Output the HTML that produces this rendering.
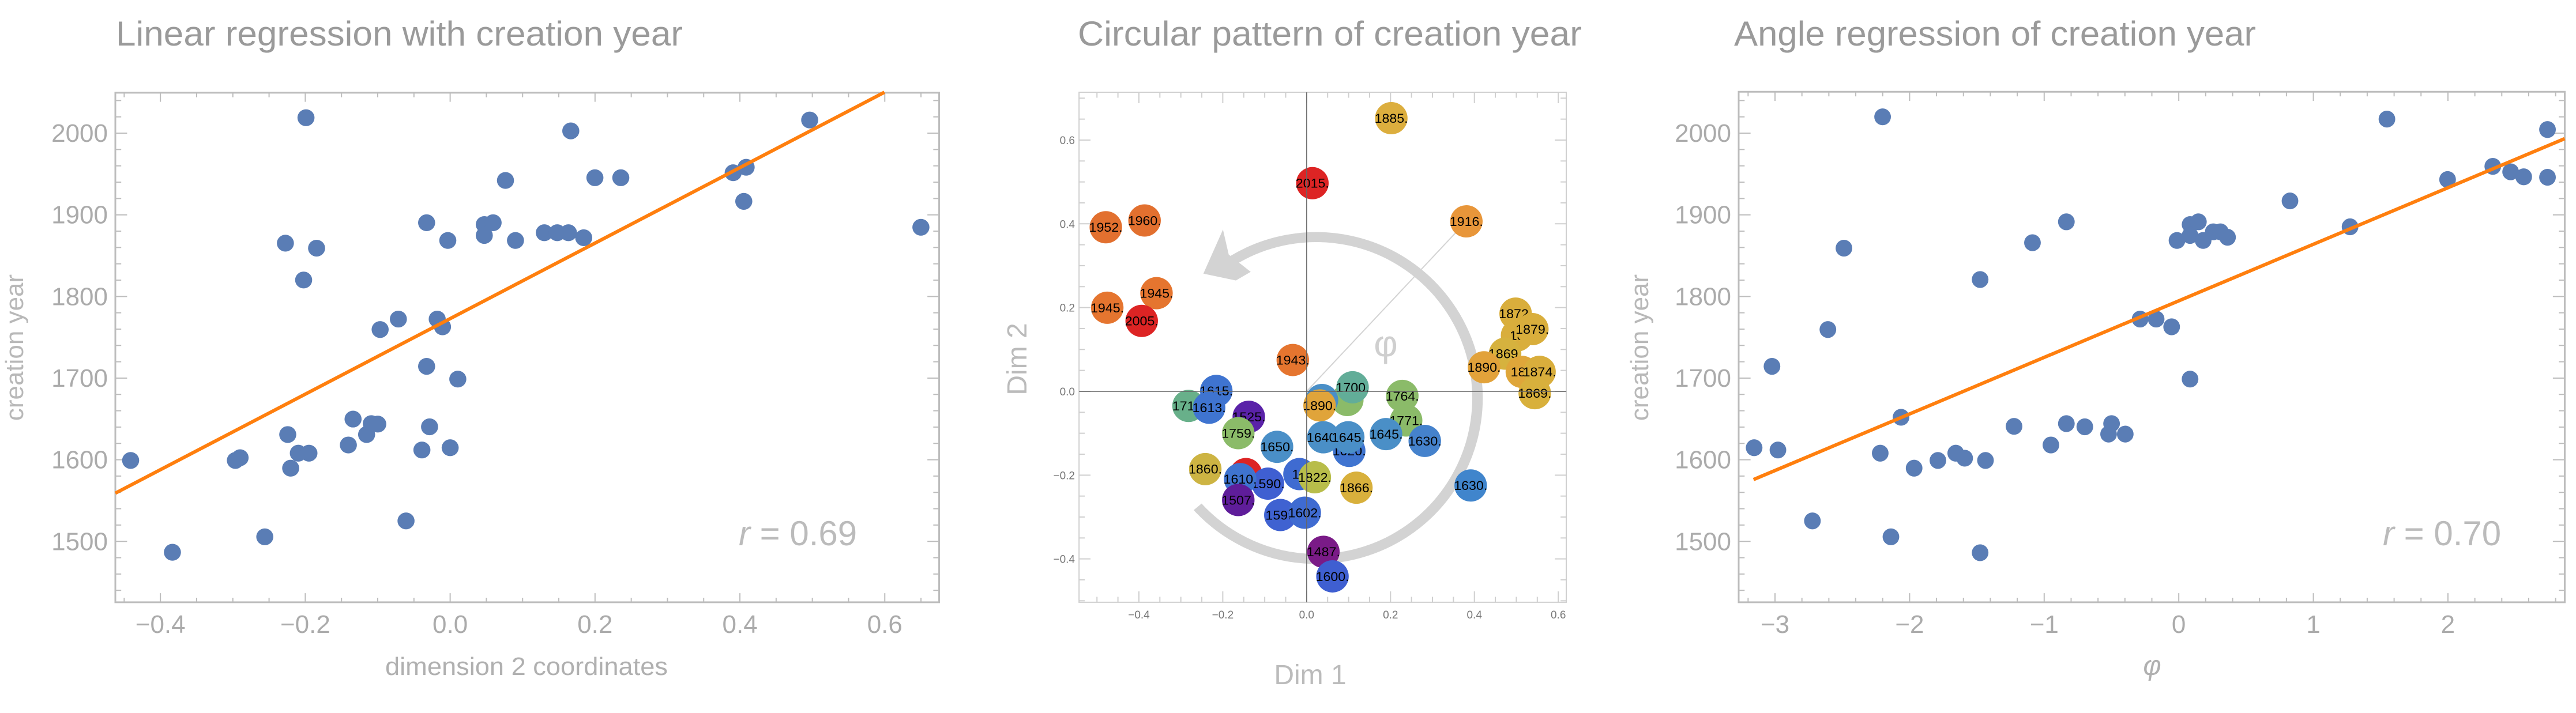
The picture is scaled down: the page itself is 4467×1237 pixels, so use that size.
<!DOCTYPE html>
<html><head><meta charset="utf-8"><style>
html,body{margin:0;padding:0;background:#fff;}
svg{display:block;}
text{font-family:"Liberation Sans",sans-serif;}
</style></head><body>
<svg id="s" xmlns="http://www.w3.org/2000/svg" width="4467" height="1237" viewBox="0 0 4467 1237">
<rect width="4467" height="1237" fill="#fff"/>
<!-- titles -->
<text x="201" y="79" font-size="60" fill="#9a9a9a" textLength="983" lengthAdjust="spacingAndGlyphs">Linear regression with creation year</text>
<text x="1869" y="79" font-size="60" fill="#9a9a9a" textLength="874" lengthAdjust="spacingAndGlyphs">Circular pattern of creation year</text>
<text x="3007" y="79" font-size="60" fill="#9a9a9a" textLength="905" lengthAdjust="spacingAndGlyphs">Angle regression of creation year</text>

<!-- panel 1 -->
<g id="p1" transform="scale(1.0204,0.7886)">
<rect x="196" y="204" width="1400" height="1121" fill="none" stroke="#bdbdbd" stroke-width="3" vector-effect="non-scaling-stroke"/>
<g id="t1"></g>
<g fill="#5a7db5">
<ellipse cx="222" cy="1013" rx="14.5" ry="18.5"/><ellipse cx="293" cy="1215" rx="14.5" ry="18.5"/><ellipse cx="400" cy="1013" rx="14.5" ry="18.5"/><ellipse cx="408" cy="1007" rx="14.5" ry="18.5"/><ellipse cx="450" cy="1181" rx="14.5" ry="18.5"/><ellipse cx="485" cy="535" rx="14.5" ry="18.5"/><ellipse cx="489" cy="956" rx="14.5" ry="18.5"/><ellipse cx="494" cy="1030" rx="14.5" ry="18.5"/><ellipse cx="507" cy="997" rx="14.5" ry="18.5"/><ellipse cx="516" cy="616" rx="14.5" ry="18.5"/><ellipse cx="520" cy="259" rx="14.5" ry="18.5"/><ellipse cx="525" cy="997" rx="14.5" ry="18.5"/><ellipse cx="538" cy="546" rx="14.5" ry="18.5"/><ellipse cx="592" cy="979" rx="14.5" ry="18.5"/><ellipse cx="600" cy="922" rx="14.5" ry="18.5"/><ellipse cx="623" cy="956" rx="14.5" ry="18.5"/><ellipse cx="631" cy="932" rx="14.5" ry="18.5"/><ellipse cx="642" cy="933" rx="14.5" ry="18.5"/><ellipse cx="646" cy="725" rx="14.5" ry="18.5"/><ellipse cx="677" cy="702" rx="14.5" ry="18.5"/><ellipse cx="690" cy="1146" rx="14.5" ry="18.5"/><ellipse cx="717" cy="990" rx="14.5" ry="18.5"/><ellipse cx="725" cy="490" rx="14.5" ry="18.5"/><ellipse cx="725" cy="806" rx="14.5" ry="18.5"/><ellipse cx="730" cy="939" rx="14.5" ry="18.5"/><ellipse cx="743" cy="702" rx="14.5" ry="18.5"/><ellipse cx="752" cy="719" rx="14.5" ry="18.5"/><ellipse cx="761" cy="529" rx="14.5" ry="18.5"/><ellipse cx="765" cy="985" rx="14.5" ry="18.5"/><ellipse cx="778" cy="834" rx="14.5" ry="18.5"/><ellipse cx="823" cy="494" rx="14.5" ry="18.5"/><ellipse cx="823" cy="518" rx="14.5" ry="18.5"/><ellipse cx="838" cy="490" rx="14.5" ry="18.5"/><ellipse cx="859" cy="397" rx="14.5" ry="18.5"/><ellipse cx="876" cy="529" rx="14.5" ry="18.5"/><ellipse cx="925" cy="512" rx="14.5" ry="18.5"/><ellipse cx="947" cy="512" rx="14.5" ry="18.5"/><ellipse cx="966" cy="512" rx="14.5" ry="18.5"/><ellipse cx="992" cy="523" rx="14.5" ry="18.5"/><ellipse cx="970" cy="288" rx="14.5" ry="18.5"/><ellipse cx="1011" cy="391" rx="14.5" ry="18.5"/><ellipse cx="1055" cy="391" rx="14.5" ry="18.5"/><ellipse cx="1246" cy="380" rx="14.5" ry="18.5"/><ellipse cx="1268" cy="368" rx="14.5" ry="18.5"/><ellipse cx="1264" cy="443" rx="14.5" ry="18.5"/><ellipse cx="1376" cy="264" rx="14.5" ry="18.5"/><ellipse cx="1565" cy="500" rx="14.5" ry="18.5"/>
</g>
<line x1="196" y1="1085" x2="1503" y2="203" stroke="#ff7f0e" stroke-width="6" vector-effect="non-scaling-stroke"/>
</g>
<text x="1281" y="946" font-size="60" fill="#bbb"><tspan font-style="italic">r</tspan> = 0.69</text>
<text x="913" y="1171" font-size="44" fill="#b0b0b0" text-anchor="middle" textLength="490" lengthAdjust="spacingAndGlyphs">dimension 2 coordinates</text>
<text transform="translate(40,603) rotate(-90)" font-size="44" fill="#b8b8b8" text-anchor="middle">creation year</text>
<g id="l1" font-size="44" fill="#ababab"></g>

<!-- panel 2 -->
<g id="p2" transform="translate(1600,0) scale(0.8292,0.7886)">
<rect x="327" y="203" width="1019" height="1122" fill="none" stroke="#cfcfcf" stroke-width="2" vector-effect="non-scaling-stroke"/>
<g id="t2"></g>
<path d="M575,1115 A337,354 0 1 0 650,572" fill="none" stroke="#d3d3d3" stroke-width="22"/>
<polygon points="587,602 628,505 640,560 686,598 655,617" fill="#d3d3d3"/>
<line x1="803" y1="861" x2="1137" y2="487" stroke="#d3d3d3" stroke-width="2" vector-effect="non-scaling-stroke"/>
<g id="c2" font-size="28" text-anchor="middle" fill="#000"></g>
<line x1="803" y1="203" x2="803" y2="1325" stroke="#666" stroke-width="1.5" vector-effect="non-scaling-stroke"/>
<line x1="327" y1="861" x2="1346" y2="861" stroke="#666" stroke-width="1.5" vector-effect="non-scaling-stroke"/>
</g>
<text x="2403" y="618" font-size="64" fill="#cfcfcf" text-anchor="middle">φ</text>
<text x="2272" y="1187" font-size="48" fill="#bbb" text-anchor="middle">Dim 1</text>
<text transform="translate(1780,623) rotate(-90)" font-size="48" fill="#bbb" text-anchor="middle">Dim 2</text>
<g id="l2" font-size="19" fill="#777"></g>

<!-- panel 3 -->
<g id="p3" transform="translate(2850,0) scale(1.0313,0.7886)">
<rect x="160" y="202" width="1389" height="1123" fill="none" stroke="#bdbdbd" stroke-width="3" vector-effect="non-scaling-stroke"/>
<g id="t3"></g>
<g fill="#5a7db5">
<ellipse cx="186" cy="985" rx="14" ry="18.5"/><ellipse cx="216" cy="806" rx="14" ry="18.5"/><ellipse cx="226" cy="990" rx="14" ry="18.5"/><ellipse cx="284" cy="1146" rx="14" ry="18.5"/><ellipse cx="310" cy="725" rx="14" ry="18.5"/><ellipse cx="337" cy="546" rx="14" ry="18.5"/><ellipse cx="398" cy="997" rx="14" ry="18.5"/><ellipse cx="402" cy="257" rx="14" ry="18.5"/><ellipse cx="416" cy="1181" rx="14" ry="18.5"/><ellipse cx="433" cy="918" rx="14" ry="18.5"/><ellipse cx="455" cy="1030" rx="14" ry="18.5"/><ellipse cx="495" cy="1013" rx="14" ry="18.5"/><ellipse cx="525" cy="997" rx="14" ry="18.5"/><ellipse cx="540" cy="1008" rx="14" ry="18.5"/><ellipse cx="566" cy="615" rx="14" ry="18.5"/><ellipse cx="566" cy="1216" rx="14" ry="18.5"/><ellipse cx="575" cy="1013" rx="14" ry="18.5"/><ellipse cx="623" cy="938" rx="14" ry="18.5"/><ellipse cx="654" cy="534" rx="14" ry="18.5"/><ellipse cx="685" cy="979" rx="14" ry="18.5"/><ellipse cx="711" cy="488" rx="14" ry="18.5"/><ellipse cx="711" cy="932" rx="14" ry="18.5"/><ellipse cx="742" cy="939" rx="14" ry="18.5"/><ellipse cx="782" cy="955" rx="14" ry="18.5"/><ellipse cx="787" cy="932" rx="14" ry="18.5"/><ellipse cx="810" cy="955" rx="14" ry="18.5"/><ellipse cx="835" cy="702" rx="14" ry="18.5"/><ellipse cx="862" cy="702" rx="14" ry="18.5"/><ellipse cx="888" cy="719" rx="14" ry="18.5"/><ellipse cx="897" cy="529" rx="14" ry="18.5"/><ellipse cx="919" cy="834" rx="14" ry="18.5"/><ellipse cx="919" cy="494" rx="14" ry="18.5"/><ellipse cx="919" cy="518" rx="14" ry="18.5"/><ellipse cx="933" cy="488" rx="14" ry="18.5"/><ellipse cx="941" cy="529" rx="14" ry="18.5"/><ellipse cx="958" cy="510" rx="14" ry="18.5"/><ellipse cx="970" cy="510" rx="14" ry="18.5"/><ellipse cx="982" cy="522" rx="14" ry="18.5"/><ellipse cx="1087" cy="442" rx="14" ry="18.5"/><ellipse cx="1188" cy="499" rx="14" ry="18.5"/><ellipse cx="1250" cy="262" rx="14" ry="18.5"/><ellipse cx="1352" cy="395" rx="14" ry="18.5"/><ellipse cx="1428" cy="366" rx="14" ry="18.5"/><ellipse cx="1458" cy="378" rx="14" ry="18.5"/><ellipse cx="1480" cy="389" rx="14" ry="18.5"/><ellipse cx="1520" cy="285" rx="14" ry="18.5"/><ellipse cx="1520" cy="390" rx="14" ry="18.5"/>
</g>
<line x1="185" y1="1055" x2="1549" y2="305" stroke="#ff7f0e" stroke-width="6" vector-effect="non-scaling-stroke"/>
</g>
<text x="4132" y="946" font-size="60" fill="#bbb"><tspan font-style="italic">r</tspan> = 0.70</text>
<text x="3732" y="1171" font-size="48" fill="#b0b0b0" text-anchor="middle" font-style="italic">φ</text>
<text transform="translate(2858,603) rotate(-90)" font-size="44" fill="#b8b8b8" text-anchor="middle">creation year</text>
<g id="l3" font-size="44" fill="#ababab"></g>
</svg>
<script>
var NS="http://www.w3.org/2000/svg";
function el(p,n,a,t){var e=document.createElementNS(NS,n);for(var k in a)e.setAttribute(k,a[k]);if(t!==undefined)e.textContent=t;document.getElementById(p).appendChild(e);return e;}
function ln(p,x1,y1,x2,y2,c){el(p,"line",{x1:x1,y1:y1,x2:x2,y2:y2,stroke:c,"stroke-width":2,"vector-effect":"non-scaling-stroke"});}
function fmt(v,d){var s=Math.abs(v).toFixed(d);return (v<-1e-9?"\u2212":"")+s;}
(function(){var L=196,R=1596,T=204,B=1325,c="#bdbdbd";
for(var k=-9;k<=13;k++){var x=765+k*61.55;if(x<L||x>R)continue;var m=(k%4==0);var l=m?20:10;ln("t1",x,B,x,B-l,c);ln("t1",x,T,x,T+l,c);
 if(m)el("l1","text",{x:(x/0.98).toFixed(1),y:1098,"text-anchor":"middle"},fmt(k*0.05,1));}
for(var v=1440;v<=2040;v+=20){var y=293+(2000-v)*1.796;if(y<T||y>B)continue;var m=(v%100==0);var l=m?20:10;ln("t1",L,y,L+l,y,c);ln("t1",R,y,R-l,y,c);
 if(m)el("l1","text",{x:187,y:(y/1.268+15).toFixed(1),"text-anchor":"end"},v);}
})();
(function(){var L=160,R=1549,T=202,B=1325,c="#bdbdbd";
for(var k=-16;k<=14;k++){var v=k*0.2;var x=900+v*226.3;if(x<L||x>R)continue;var m=(k%5==0);var l=m?20:10;ln("t3",x,B,x,B-l,c);ln("t3",x,T,x,T+l,c);
 if(m)el("l3","text",{x:(2850+x/0.9697).toFixed(1),y:1098,"text-anchor":"middle"},fmt(v,0));}
for(var v=1440;v<=2040;v+=20){var y=293+(2000-v)*1.796;if(y<T||y>B)continue;var m=(v%100==0);var l=m?20:10;ln("t3",L,y,L+l,y,c);ln("t3",R,y,R-l,y,c);
 if(m)el("l3","text",{x:3002,y:(y/1.268+15).toFixed(1),"text-anchor":"end"},v);}
})();
(function(){var L=327,R=1346,T=203,B=1325,c="#cfcfcf";
for(var k=-11;k<=12;k++){var v=k*0.05;var x=803+v*877;if(x<L||x>R)continue;var m=(k%4==0);var l=m?24:12;ln("t2",x,B,x,B-l,c);ln("t2",x,T,x,T+l,c);
 if(m)el("l2","text",{x:(1600+x/1.206).toFixed(1),y:1073,"text-anchor":"middle"},fmt(v,1));}
for(var k=-10;k<=14;k++){var v=k*0.05;var y=861-v*921.5;if(y<T||y>B)continue;var m=(k%4==0);var l=m?24:12;ln("t2",L,y,L+l,y,c);ln("t2",R,y,R-l,y,c);
 if(m)el("l2","text",{x:1864,y:(y/1.268+7).toFixed(1),"text-anchor":"end"},fmt(v,1));}
var P=[
[980,260,"#dcae3e","1885."],[815,403,"#dd2424","2015."],[1137,487,"#e8963a","1916."],
[383,500,"#e2702f","1952."],[464,485,"#e2702f","1960."],[489,645,"#e5752f","1945."],[386,677,"#e5752f","1945."],[458,706,"#dd2424","2005."],
[774,792,"#e5752f","1943."],
[1240,690,"#d9ae3c","1872."],[1243,738,"#d9ae3c","18"],[1275,724,"#d9ae3c","1879."],[1218,778,"#d6b23e","1869."],[1174,808,"#e2a23a","1890."],[1253,818,"#dfa63a","188"],[1290,818,"#d9ae3c","1874."],[1280,865,"#d8b03c","1869."],
[888,880,"#8bbb69",""],[835,880,"#4a8fc7",""],[899,852,"#62ad98","1700."],[1003,871,"#8bbb69","1764."],[830,892,"#e0a43a","1890."],
[556,893,"#68b08a","1711."],[614,860,"#3f74d0","1615."],[599,897,"#3f74d0","1613."],[682,917,"#5a22a8","1525."],[660,953,"#8bbb69","1759."],
[741,983,"#4a8fc7","1650."],[1011,925,"#8bbb69","1771."],[892,992,"#3f74d0","1620."],[838,962,"#4a8fc7","1640."],[890,962,"#4a8fc7","1645."],[969,955,"#4a8fc7","1645."],[1050,970,"#4582cc","1630."],
[591,1032,"#cdb443","1860."],[676,1043,"#dd2424",""],[722,1064,"#3f5fd1","1590."],[664,1054,"#3f74d0","1610."],[788,1043,"#3f6bd1","16"],[820,1050,"#b8bd4a","1822."],[907,1073,"#d8b03c","1866."],
[1146,1068,"#4085cc","1630."],[660,1100,"#5f1d9a","1507."],[748,1133,"#3f62d1","1599"],[799,1128,"#3f6bd1","1602."],[838,1214,"#7a1b87","1487."],[857,1268,"#3f5fd1","1600."]];
P.forEach(function(p){el("c2","ellipse",{cx:p[0],cy:p[1],rx:34,ry:35.5,fill:p[2]});if(p[3])el("c2","text",{x:p[0],y:p[1]+10},p[3]);});
})();
</script>
</body></html>
